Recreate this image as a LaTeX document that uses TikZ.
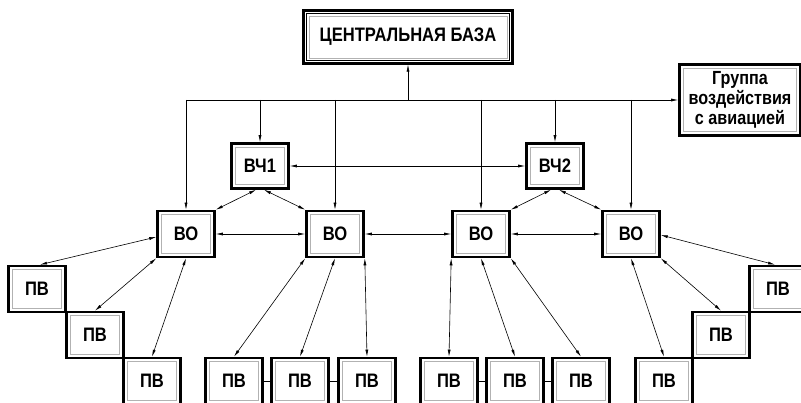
\documentclass[tikz,border=0pt]{standalone}
\usepackage{fontspec}
\setmainfont{Liberation Sans}
\newfontfamily\boxfont[FakeStretch=0.85]{Liberation Sans Bold}
\usetikzlibrary{arrows.meta}

\tikzset{
  unit/.style={draw=black, line width=2.6pt, fill=white,
    minimum width=57pt, minimum height=46pt, inner sep=0pt,
    font=\boxfont\fontsize{19.5}{21}\selectfont,
    path picture={\draw[gray!60, line width=1pt]
      ([shift={(3.8pt,-3.8pt)}]path picture bounding box.north west) rectangle
      ([shift={(-3.8pt,3.8pt)}]path picture bounding box.south east);}},
  mainbox/.style={unit, line width=2.2pt,
    path picture={\draw[black, line width=0.8pt]
      ([shift={(3pt,-3pt)}]path picture bounding box.north west) rectangle
      ([shift={(-3pt,3pt)}]path picture bounding box.south east);
      \draw[gray!60, line width=0.9pt]
      ([shift={(5.5pt,-5.5pt)}]path picture bounding box.north west) rectangle
      ([shift={(-5.5pt,5.5pt)}]path picture bounding box.south east);}},
  feed/.style={line width=0.6pt, -{Latex[length=7pt,width=3pt]}},
  link/.style={line width=0.6pt, {Latex[length=7pt,width=3pt]}-{Latex[length=7pt,width=3pt]}},
}

\begin{document}
\begin{tikzpicture}[x=1pt,y=-1pt]
  \clip (0,0) rectangle (801,403);
  % top level
  \node[mainbox, minimum width=209pt, minimum height=53pt] (base) at (408,37) {ЦЕНТРАЛЬНАЯ БАЗА};
  \node[unit, minimum width=121pt, minimum height=71pt, align=center,
        font=\boxfont\fontsize{19}{20}\selectfont] (group) at (740,100) {Группа\\воздействия\\с авиацией};
  \node[unit, minimum height=45pt] (vch1) at (260,166) {ВЧ1};
  \node[unit, minimum height=45pt] (vch2) at (555,166) {ВЧ2};
  % ВО
  \node[unit] (vo1) at (186,234) {ВО};
  \node[unit] (vo2) at (335,234) {ВО};
  \node[unit] (vo3) at (481,234) {ВО};
  \node[unit] (vo4) at (631,234) {ВО};
  % ПВ
  \node[unit] (pv1) at (37,289) {ПВ};
  \node[unit] (pv2) at (95,335) {ПВ};
  \node[unit] (pv3) at (152,381) {ПВ};
  \node[unit] (pv4) at (234,381) {ПВ};
  \node[unit] (pv5) at (300,381) {ПВ};
  \node[unit] (pv6) at (367,381) {ПВ};
  \node[unit] (pv7) at (449,381) {ПВ};
  \node[unit] (pv8) at (515,381) {ПВ};
  \node[unit] (pv9) at (581,381) {ПВ};
  \node[unit] (pv10) at (664,381) {ПВ};
  \node[unit] (pv11) at (721,335) {ПВ};
  \node[unit] (pv12) at (778,289) {ПВ};

  % bus from the base
  \coordinate (bus) at (408,100);
  \draw[feed] (bus) -- (base);
  \draw[feed] (vo1 |- bus) -- (group.west);
  \draw[feed] (vo1 |- bus) -- (vo1);
  \draw[feed] (vch1 |- bus) -- (vch1);
  \draw[feed] (vo2 |- bus) -- (vo2);
  \draw[feed] (vo3 |- bus) -- (vo3);
  \draw[feed] (vch2 |- bus) -- (vch2);
  \draw[feed] (vo4 |- bus) -- (vo4);

  \draw[link] (vch1) -- (vch2);
  \draw[link] ([xshift=-4pt]vch1.south) -- (vo1.north east);
  \draw[link] ([xshift=4pt]vch1.south) -- (vo2.north west);
  \draw[link] ([xshift=-4pt]vch2.south) -- (vo3.north east);
  \draw[link] ([xshift=4pt]vch2.south) -- (vo4.north west);
  \draw[link] (vo1) -- (vo2);
  \draw[link] (vo2) -- (vo3);
  \draw[link] (vo3) -- (vo4);

  % ВО -- ПВ
  \draw[link] ([yshift=-3pt]vo1.west) -- ([xshift=3pt]pv1.north);
  \draw[link] (vo1.south west) -- (pv2.north);
  \draw[link] (vo1.south) -- (pv3.north);
  \draw[link] (vo2.south west) -- (pv4.north);
  \draw[link] (vo2.south) -- (pv5.north);
  \draw[link] (vo2.south east) -- (pv6.north);
  \draw[link] (vo3.south west) -- (pv7.north);
  \draw[link] (vo3.south) -- (pv8.north);
  \draw[link] (vo3.south east) -- (pv9.north);
  \draw[link] (vo4.south) -- (pv10.north);
  \draw[link] (vo4.south east) -- (pv11.north);
  \draw[link] ([yshift=-1pt]vo4.east) -- ([xshift=-3pt]pv12.north);

  % ПВ in a row
  \draw[line width=0.6pt] (pv4) -- (pv5);
  \draw[line width=0.6pt] (pv5) -- (pv6);
  \draw[line width=0.6pt] (pv7) -- (pv8);
  \draw[line width=0.6pt] (pv8) -- (pv9);
\end{tikzpicture}
\end{document}
